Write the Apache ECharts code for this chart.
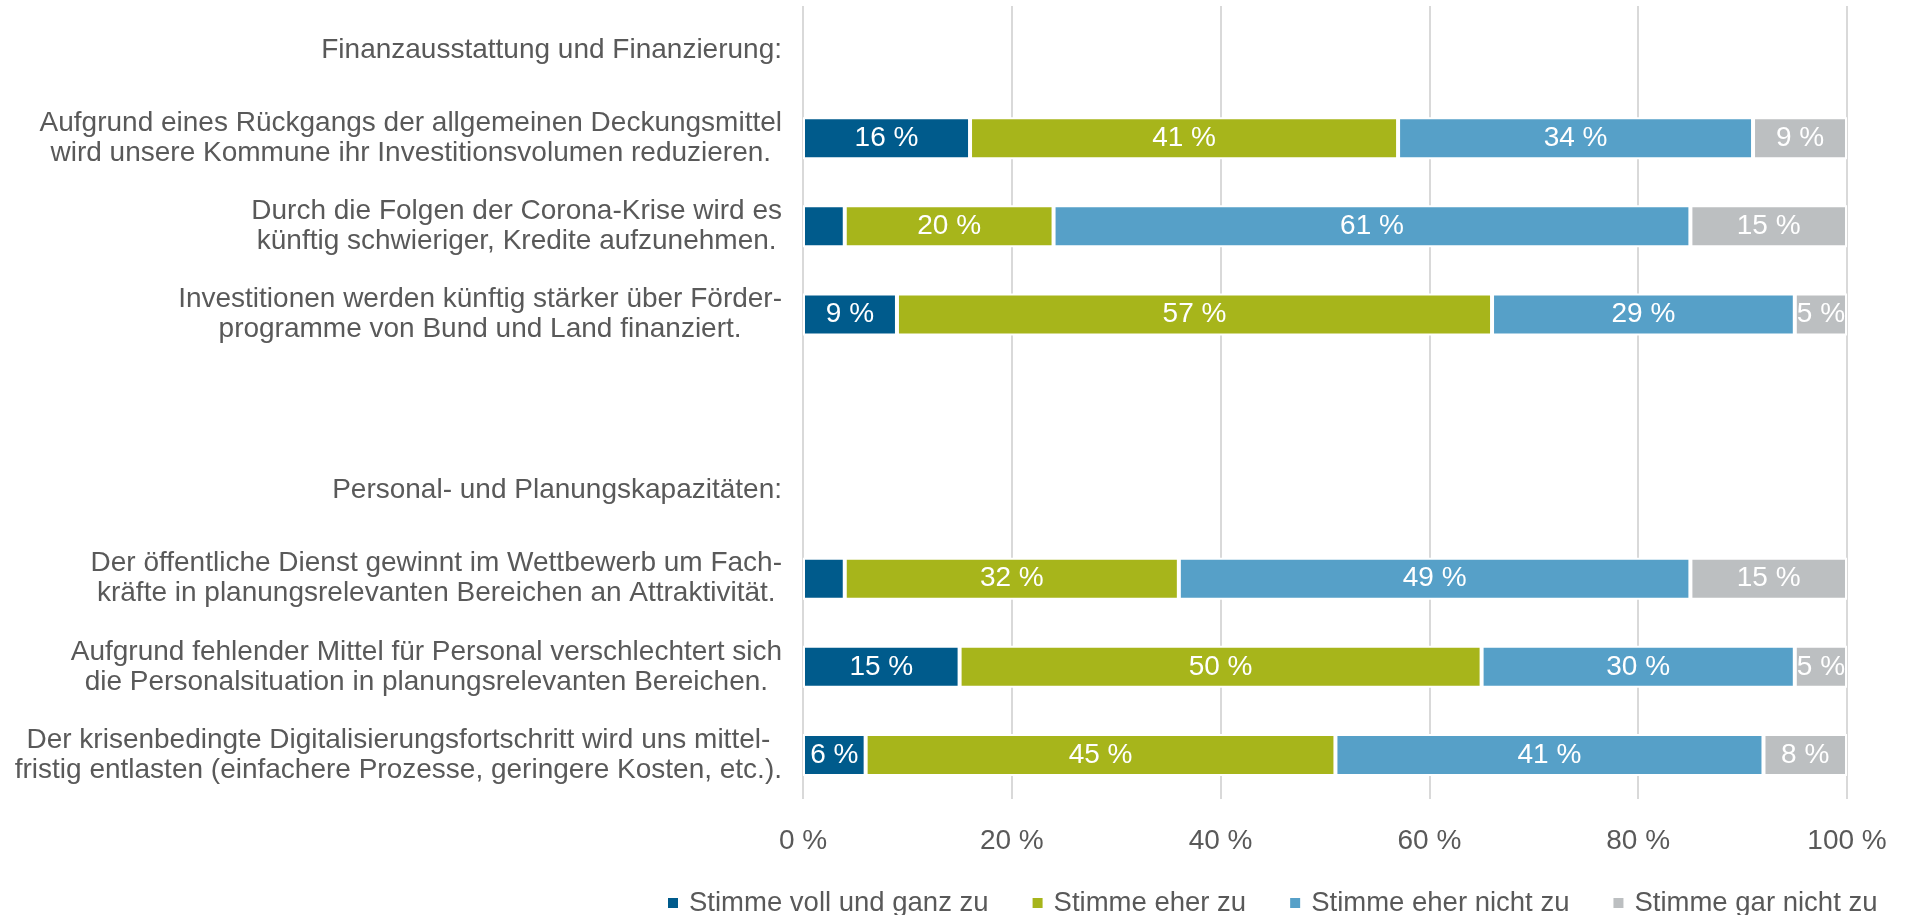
<!DOCTYPE html>
<html>
<head>
<meta charset="utf-8">
<title>Kommunale Investitionen</title>
<script src="https://cdn.jsdelivr.net/npm/echarts@6/dist/echarts.min.js"></script>
<style>
  html, body { margin: 0; padding: 0; background: #fff; }
  #chart { width: 1912px; height: 915px; }
</style>
</head>
<body>
<div id="chart"></div>
<script>
// categories, top to bottom (header rows + one empty spacer row)
const categories = [
  'Finanzausstattung und Finanzierung:',
  'Aufgrund eines Rückgangs der allgemeinen Deckungsmittel\nwird unsere Kommune ihr Investitionsvolumen reduzieren.',
  'Durch die Folgen der Corona-Krise wird es\nkünftig schwieriger, Kredite aufzunehmen.',
  'Investitionen werden künftig stärker über Förder-\nprogramme von Bund und Land finanziert.',
  '',
  'Personal- und Planungskapazitäten:',
  'Der öffentliche Dienst gewinnt im Wettbewerb um Fach-\nkräfte in planungsrelevanten Bereichen an Attraktivität.',
  'Aufgrund fehlender Mittel für Personal verschlechtert sich\ndie Personalsituation in planungsrelevanten Bereichen.',
  'Der krisenbedingte Digitalisierungsfortschritt wird uns mittel-\nfristig entlasten (einfachere Prozesse, geringere Kosten, etc.).'
]

const seriesNames = ['Stimme voll und ganz zu', 'Stimme eher zu', 'Stimme eher nicht zu', 'Stimme gar nicht zu']

// values in percent, null = header / spacer row
const vollUndGanz = [null, 16, 4, 9, null, null, 4, 15, 6]
const eherZu = [null, 41, 20, 57, null, null, 32, 50, 45]
const eherNicht = [null, 34, 61, 29, null, null, 49, 30, 41]
const garNicht = [null, 9, 15, 5, null, null, 15, 5, 8]

const xTicks = [0, 20, 40, 60, 80, 100]

const colors = ['#005b8c', '#a7b51b', '#56a0c8', '#bcbfc1']
const font = "'Liberation Sans', Arial, sans-serif"
const textGrey = '#595959'
const fs = 28

const chart = echarts.init(document.getElementById('chart'))

function makeSeries(name, data, color) {
  return {
    name: name,
    type: 'bar',
    stack: 'total',
    barWidth: 42,
    data: data,
    itemStyle: {
      color: color,
      borderColor: '#fff',
      borderWidth: 2
    },
    label: {
      show: true,
      position: 'inside',
      color: '#fff',
      fontFamily: font,
      fontSize: fs,
      formatter: p => (p.value >= 5 ? p.value + ' %' : '')
    },
    animation: false
  }
}

chart.setOption({
  textStyle: { fontFamily: font },
  grid: {
    left: 803,
    right: 65,
    top: 6,
    bottom: 116,
    containLabel: false
  },
  legend: {
    left: 661,
    top: 884,
    icon: 'rect',
    itemWidth: 12,
    itemHeight: 12,
    itemGap: 42,
    data: seriesNames,
    textStyle: {
      color: textGrey,
      fontFamily: font,
      fontSize: 27.5,
      padding: [0, 0, 0, 5]
    }
  },
  xAxis: {
    type: 'value',
    min: xTicks[0],
    max: xTicks[xTicks.length - 1],
    interval: 20,
    axisLine: { show: false },
    axisTick: { show: false },
    axisLabel: {
      color: textGrey,
      fontFamily: font,
      fontSize: fs,
      margin: 28,
      formatter: '{value} %'
    },
    splitLine: {
      show: true,
      lineStyle: { color: '#d9d9d9', width: 2 }
    }
  },
  yAxis: {
    type: 'category',
    inverse: true,
    data: categories,
    axisLine: { show: false },
    axisTick: { show: false },
    axisLabel: {
      color: textGrey,
      fontFamily: font,
      fontSize: fs,
      margin: 21,
      align: 'right',
      interval: 0,
      // lines centred inside the right-aligned block, like the original
      formatter: v => v.split('\n').map(l => '{c|' + l + '}').join('\n'),
      rich: {
        c: {
          align: 'center',
          color: textGrey,
          fontFamily: font,
          fontSize: fs,
          lineHeight: 30
        }
      }
    }
  },
  series: [
    makeSeries(seriesNames[0], vollUndGanz, colors[0]),
    makeSeries(seriesNames[1], eherZu, colors[1]),
    makeSeries(seriesNames[2], eherNicht, colors[2]),
    makeSeries(seriesNames[3], garNicht, colors[3])
  ]
})
</script>
</body>
</html>
